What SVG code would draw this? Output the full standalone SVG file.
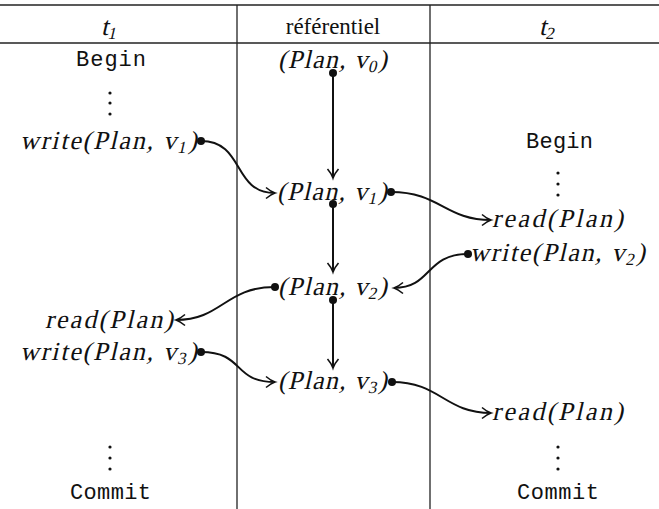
<svg xmlns="http://www.w3.org/2000/svg" width="659" height="509" viewBox="0 0 659 509">
<style>
.m{font-family:"Liberation Serif",serif;font-size:26px;fill:#111}
.r{font-family:"Liberation Serif",serif;font-size:23px;fill:#111}
.tt{font-family:"Liberation Mono",monospace;font-size:22px;fill:#111}
.sub{font-size:17px}
.rule{stroke:#222;stroke-width:1.3;fill:none}
.c{stroke:#111;stroke-width:2;fill:none;marker-end:url(#tip)}
.dot{fill:#111}
.d{fill:#111}
</style>
<defs>
<marker id="tip" markerUnits="userSpaceOnUse" markerWidth="14" markerHeight="14" viewBox="-10 -7 12 14" refX="0" refY="0" orient="auto">
<path d="M-9,-5.5 Q-4,-1.2 0,0 Q-4,1.2 -9,5.5" stroke="#111" stroke-width="1.6" fill="none"/>
</marker>
</defs>
<g id="table">
<line class="rule" x1="0" y1="5" x2="659" y2="5"/>
<line class="rule" x1="0" y1="43" x2="659" y2="43"/>
<line class="rule" x1="237" y1="5" x2="237" y2="509"/>
<line class="rule" x1="430" y1="5" x2="430" y2="509"/>
</g>
<g id="headers">
<g transform="translate(101,35) skewX(-13)"><text class="m" x="0" y="0">t<tspan class="sub" dy="4">1</tspan></text></g>
<text class="r" x="333" y="34" text-anchor="middle">référentiel</text>
<g transform="translate(539,35) skewX(-13)"><text class="m" x="0" y="0">t<tspan class="sub" dy="4">2</tspan></text></g>
</g>
<g id="t1">
<text class="tt" x="76" y="66" textLength="70">Begin</text>
<circle class="d" cx="110" cy="93" r="1.6"/><circle class="d" cx="110" cy="103" r="1.6"/><circle class="d" cx="110" cy="114" r="1.6"/>
<g id="w1" transform="translate(20,149) skewX(-13)"><text class="m" x="0" y="0" textLength="177">write(Plan, v<tspan class="sub" dy="4">1</tspan><tspan dy="-4">)</tspan></text></g>
<g id="rl" transform="translate(45,328) skewX(-13)"><text class="m" x="0" y="0" textLength="128">read(Plan)</text></g>
<g id="w3" transform="translate(20,360) skewX(-13)"><text class="m" x="0" y="0" textLength="177">write(Plan, v<tspan class="sub" dy="4">3</tspan><tspan dy="-4">)</tspan></text></g>
<circle class="d" cx="110" cy="447" r="1.6"/><circle class="d" cx="110" cy="458" r="1.6"/><circle class="d" cx="110" cy="469" r="1.6"/>
<text class="tt" x="70" y="499" textLength="81">Commit</text>
</g>
<g id="ref">
<g id="p0" transform="translate(278,68) skewX(-13)"><text class="m" x="0" y="0" textLength="109">(Plan, v<tspan class="sub" dy="4">0</tspan><tspan dy="-4">)</tspan></text></g>
<g id="p1" transform="translate(277,200) skewX(-13)"><text class="m" x="0" y="0" textLength="110">(Plan, v<tspan class="sub" dy="4">1</tspan><tspan dy="-4">)</tspan></text></g>
<g id="p2" transform="translate(278,295) skewX(-13)"><text class="m" x="0" y="0" textLength="109">(Plan, v<tspan class="sub" dy="4">2</tspan><tspan dy="-4">)</tspan></text></g>
<g id="p3" transform="translate(278,389) skewX(-13)"><text class="m" x="0" y="0" textLength="109">(Plan, v<tspan class="sub" dy="4">3</tspan><tspan dy="-4">)</tspan></text></g>
</g>
<g id="t2">
<text class="tt" x="526" y="148" textLength="67">Begin</text>
<circle class="d" cx="558" cy="173" r="1.6"/><circle class="d" cx="558" cy="184" r="1.6"/><circle class="d" cx="558" cy="195" r="1.6"/>
<g id="rr1" transform="translate(492,227) skewX(-13)"><text class="m" x="0" y="0" textLength="131">read(Plan)</text></g>
<g id="w2" transform="translate(470,261) skewX(-13)"><text class="m" x="0" y="0" textLength="175">write(Plan, v<tspan class="sub" dy="4">2</tspan><tspan dy="-4">)</tspan></text></g>
<g id="rr2" transform="translate(492,420) skewX(-13)"><text class="m" x="0" y="0" textLength="131">read(Plan)</text></g>
<circle class="d" cx="558" cy="447" r="1.6"/><circle class="d" cx="558" cy="458" r="1.6"/><circle class="d" cx="558" cy="469" r="1.6"/>
<text class="tt" x="517" y="499" textLength="82">Commit</text>
</g>
<g id="connectors">
<circle class="dot" cx="333" cy="73" r="4"/>
<path class="c" d="M333,73 L333,178"/>
<circle class="dot" cx="333" cy="204" r="4"/>
<path class="c" d="M333,204 L333,272"/>
<circle class="dot" cx="333" cy="300" r="4"/>
<path class="c" d="M333,300 L333,368"/>
<circle class="dot" cx="201" cy="141" r="4"/>
<path class="c" d="M201,141 C245,141 232,193 275,193"/>
<circle class="dot" cx="391" cy="192" r="4"/>
<path class="c" d="M391,192 C440,192 445,220 491,220"/>
<circle class="dot" cx="468" cy="254" r="4"/>
<path class="c" d="M468,254 C425,254 432,288 394,288"/>
<circle class="dot" cx="275" cy="287" r="4"/>
<path class="c" d="M275,287 C225,287 222,320 176,320"/>
<circle class="dot" cx="201" cy="352" r="4"/>
<path class="c" d="M201,352 C245,352 232,382 275,382"/>
<circle class="dot" cx="392" cy="382" r="4"/>
<path class="c" d="M392,382 C440,382 445,413 491,413"/>
</g>
</svg>
